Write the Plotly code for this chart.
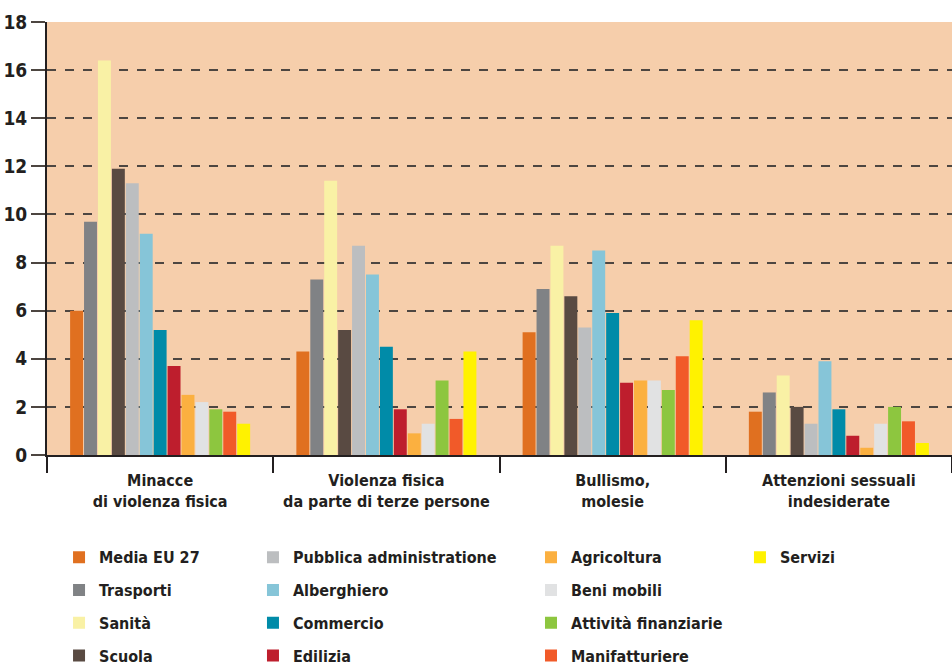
import plotly.graph_objects as go

categories = ["Minacce<br>di violenza fisica",
              "Violenza fisica<br>da parte di terze persone",
              "Bullismo,<br>molesie",
              "Attenzioni sessuali<br>indesiderate"]

series_names = ["Media EU 27", "Trasporti", "Sanità", "Scuola",
                "Pubblica administratione", "Alberghiero", "Commercio", "Edilizia",
                "Agricoltura", "Beni mobili", "Attività finanziarie", "Manifatturiere",
                "Servizi"]

media_eu27 = [6.0, 4.3, 5.1, 1.8]
trasporti = [9.7, 7.3, 6.9, 2.6]
sanita = [16.4, 11.4, 8.7, 3.3]
scuola = [11.9, 5.2, 6.6, 2.0]
pubblica = [11.3, 8.7, 5.3, 1.3]
alberghiero = [9.2, 7.5, 8.5, 3.9]
commercio = [5.2, 4.5, 5.9, 1.9]
edilizia = [3.7, 1.9, 3.0, 0.8]
agricoltura = [2.5, 0.9, 3.1, 0.3]
beni_mobili = [2.2, 1.3, 3.1, 1.3]
attivita_fin = [1.9, 3.1, 2.7, 2.0]
manifatturiere = [1.8, 1.5, 4.1, 1.4]
servizi = [1.3, 4.3, 5.6, 0.5]

series_values = [media_eu27, trasporti, sanita, scuola, pubblica, alberghiero,
                 commercio, edilizia, agricoltura, beni_mobili, attivita_fin,
                 manifatturiere, servizi]

colors = ["#E07020", "#808285", "#F9F1A5", "#594A42", "#BCBEC0", "#86C5D8",
          "#008BA8", "#BE1E2D", "#FBB040", "#E1E2E3", "#8DC63F", "#F15A29",
          "#FFF200"]

FONT = "Liberation Sans Narrow, DejaVu Sans Condensed, Arial Narrow, sans-serif"
TXT = "#231F20"

legend_ids = ["legend"] * 4 + ["legend2"] * 4 + ["legend3"] * 4 + ["legend4"]

fig = go.Figure()
for name, vals, col, lg in zip(series_names, series_values, colors, legend_ids):
    fig.add_trace(go.Bar(
        x=categories, y=vals, name=name, marker_color=col,
        marker_line_width=0, legend=lg, legendgroup=name,
    ))

leg_common = dict(
    orientation="v", yanchor="top", y=-0.197, xanchor="left",
    font=dict(family=FONT, size=16, color=TXT, weight="bold"),
    bgcolor="rgba(0,0,0,0)", tracegroupgap=9, itemwidth=30,
)

fig.update_layout(
    width=952, height=665,
    margin=dict(l=47, r=0, t=22, b=210, autoexpand=False),
    paper_bgcolor="white",
    plot_bgcolor="#F6CEAB",
    barmode="group", bargap=0.2, bargroupgap=0.07,
    font=dict(family=FONT, color=TXT, weight="bold"),
    legend=dict(x=0.0133, **leg_common),
    legend2=dict(x=0.2276, **leg_common),
    legend3=dict(x=0.5348, **leg_common),
    legend4=dict(x=0.7657, **leg_common),
    xaxis=dict(
        tickson="boundaries", ticks="outside", ticklen=16, tickwidth=1.5,
        tickcolor="#231F20", showline=True, linecolor="#231F20", linewidth=2,
        showgrid=False, automargin=False, tickangle=0, ticklabelstandoff=10,
        tickfont=dict(family=FONT, size=16, color=TXT, weight="bold"),
    ),
    yaxis=dict(
        range=[0, 18], dtick=2, tick0=0,
        showgrid=True, gridcolor="#4D4641", griddash="dash", gridwidth=2,
        ticks="outside", ticklen=14, tickwidth=2, tickcolor="#4D4641",
        showline=True, linecolor="#231F20", linewidth=2,
        zeroline=False, automargin=False,
        tickfont=dict(family=FONT, size=19, color=TXT, weight="bold"),
    ),
)

fig.write_html("out.html",
               config={"displayModeBar": False},
               post_script="document.body.style.margin='0';document.body.style.overflow='hidden';")
